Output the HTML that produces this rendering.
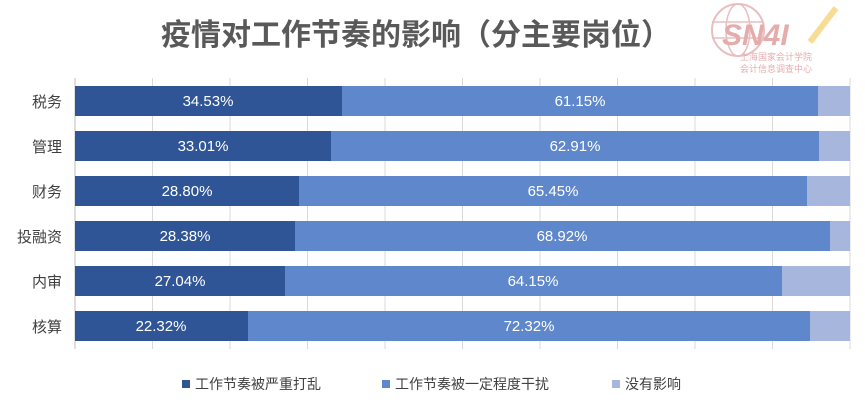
<!DOCTYPE html>
<html><head><meta charset="utf-8"><style>
body{margin:0;background:#fff;width:865px;height:414px;overflow:hidden;font-family:"Liberation Sans","Noto Sans CJK SC",sans-serif;}
</style></head><body>
<svg width="865" height="414" xmlns="http://www.w3.org/2000/svg" font-family="Liberation Sans, Noto Sans CJK SC, sans-serif">
<rect width="865" height="414" fill="#fff"/>
<g opacity="0.55">
<circle cx="738" cy="30" r="26" fill="none" stroke="#d98a8a" stroke-width="2"/>
<ellipse cx="738" cy="30" rx="12" ry="26" fill="none" stroke="#d98a8a" stroke-width="1.5"/>
<line x1="712" y1="22" x2="764" y2="22" stroke="#d98a8a" stroke-width="1.5"/>
<line x1="712" y1="38" x2="764" y2="38" stroke="#d98a8a" stroke-width="1.5"/>
<text x="722" y="45" font-size="30" font-weight="bold" fill="#d06a6a" font-style="italic">SN4I</text>
<line x1="810" y1="42" x2="836" y2="8" stroke="#f0c040" stroke-width="6"/>
<text x="740" y="60" font-size="9" fill="#d06a6a" font-family="Noto Sans CJK SC">上海国家会计学院</text>
<text x="740" y="72" font-size="9" fill="#d06a6a" font-family="Noto Sans CJK SC">会计信息调查中心</text>
</g>
<text x="416" y="45" text-anchor="middle" font-size="30" font-weight="bold" fill="#595959" font-family="Noto Sans CJK SC, sans-serif">疫情对工作节奏的影响（分主要岗位）</text>
<g stroke="#d9d9d9" stroke-width="1">
<line x1="152.5" y1="78" x2="152.5" y2="349"/><line x1="230" y1="78" x2="230" y2="349"/>
<line x1="307.5" y1="78" x2="307.5" y2="349"/><line x1="385" y1="78" x2="385" y2="349"/>
<line x1="462.5" y1="78" x2="462.5" y2="349"/><line x1="540" y1="78" x2="540" y2="349"/>
<line x1="617.5" y1="78" x2="617.5" y2="349"/><line x1="695" y1="78" x2="695" y2="349"/>
<line x1="772.5" y1="78" x2="772.5" y2="349"/><line x1="850" y1="78" x2="850" y2="349"/>
</g>
<line x1="75" y1="78" x2="75" y2="349" stroke="#bfbfbf"/>
<g font-size="15" fill="#fff" text-anchor="middle">
<rect x="75" y="86" width="267" height="30" fill="#2F5597"/><rect x="342" y="86" width="476" height="30" fill="#5E88CB"/><rect x="818" y="86" width="32" height="30" fill="#A7B6DD"/>
<text x="208" y="106">34.53%</text><text x="580" y="106">61.15%</text>
<rect x="75" y="131" width="256" height="30" fill="#2F5597"/><rect x="331" y="131" width="488" height="30" fill="#5E88CB"/><rect x="819" y="131" width="31" height="30" fill="#A7B6DD"/>
<text x="203" y="151">33.01%</text><text x="575" y="151">62.91%</text>
<rect x="75" y="176" width="224" height="30" fill="#2F5597"/><rect x="299" y="176" width="508" height="30" fill="#5E88CB"/><rect x="807" y="176" width="43" height="30" fill="#A7B6DD"/>
<text x="187" y="196">28.80%</text><text x="553" y="196">65.45%</text>
<rect x="75" y="221" width="220" height="30" fill="#2F5597"/><rect x="295" y="221" width="535" height="30" fill="#5E88CB"/><rect x="830" y="221" width="20" height="30" fill="#A7B6DD"/>
<text x="185" y="241">28.38%</text><text x="562" y="241">68.92%</text>
<rect x="75" y="266" width="210" height="30" fill="#2F5597"/><rect x="285" y="266" width="497" height="30" fill="#5E88CB"/><rect x="782" y="266" width="68" height="30" fill="#A7B6DD"/>
<text x="180" y="286">27.04%</text><text x="533" y="286">64.15%</text>
<rect x="75" y="311" width="173" height="30" fill="#2F5597"/><rect x="248" y="311" width="562" height="30" fill="#5E88CB"/><rect x="810" y="311" width="40" height="30" fill="#A7B6DD"/>
<text x="161" y="331">22.32%</text><text x="529" y="331">72.32%</text>
</g>
<g font-size="15" fill="#404040" text-anchor="end" font-family="Noto Sans CJK SC, sans-serif">
<text x="62" y="107">税务</text><text x="62" y="152">管理</text><text x="62" y="197">财务</text>
<text x="62" y="242">投融资</text><text x="62" y="287">内审</text><text x="62" y="332">核算</text>
</g>
<g font-size="14" fill="#404040" font-family="Noto Sans CJK SC, sans-serif">
<rect x="182" y="380" width="8" height="8" fill="#2F5597"/><text x="195" y="389">工作节奏被严重打乱</text>
<rect x="382" y="380" width="8" height="8" fill="#5E88CB"/><text x="395" y="389">工作节奏被一定程度干扰</text>
<rect x="612" y="380" width="8" height="8" fill="#A7B6DD"/><text x="625" y="389">没有影响</text>
</g>
</svg>
</body></html>
